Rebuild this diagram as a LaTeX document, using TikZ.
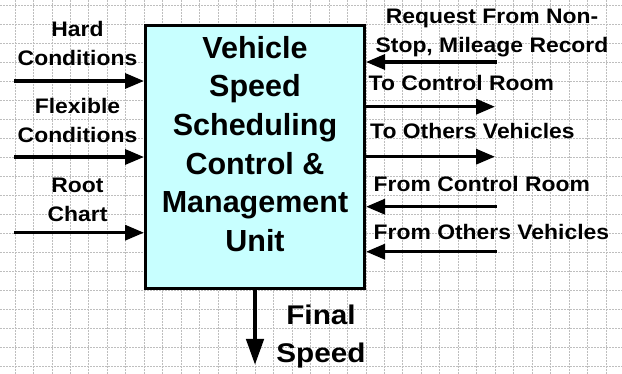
\documentclass[tikz,border=0pt]{standalone}
\usepackage{fontspec}
\setmainfont{Liberation Sans}
\usetikzlibrary{arrows.meta}
\definecolor{boxfill}{RGB}{200,255,255}
\definecolor{gridc}{RGB}{190,190,190}
\begin{document}
\begin{tikzpicture}[x=1pt,y=-1pt,
  lab/.style={font=\bfseries\fontsize{21}{28.7}\selectfont, xscale=1.09, inner sep=0pt, align=center},
  rlab/.style={font=\bfseries\fontsize{21}{28.7}\selectfont, xscale=1.09, inner sep=0pt, anchor=base west},
  titletext/.style={font=\bfseries\fontsize{30.5}{38.7}\selectfont, inner sep=0pt, align=center},
  finaltext/.style={font=\bfseries\fontsize{27}{38.4}\selectfont, xscale=1.1, inner sep=0pt, align=center},
  arr/.style={line width=3.3pt, -{Triangle[length=19pt,width=15pt]}},
  bigarr/.style={line width=4.5pt, -{Triangle[length=26pt,width=17pt]}},
  gridl/.style={gridc, line width=0.8pt, dash pattern=on 2pt off 1pt},
  mainbox/.style={draw=black, line width=3pt, fill=boxfill, minimum width=219pt, minimum height=263pt, inner sep=0pt}]
\useasboundingbox (0,0) rectangle (622,374);
\fill[white] (0,0) rectangle (622,374);
% grid
\foreach \i in {0,...,32} {\draw[gridl] ({15+18.47*\i},0) -- ({15+18.47*\i},374);}
\foreach \j in {0,...,19} {\draw[gridl] (0,{5+19*\j}) -- (622,{5+19*\j});}
% main box
\node[mainbox] (box) at (255,157) {};
\node[titletext, anchor=south] (title) at (255,252) {Vehicle\\Speed\\Scheduling\\Control \&\\Management\\Unit};
% left labels
\node[lab, anchor=south] (hard) at (77.5,66) {Hard\\Conditions};
\node[lab, anchor=south] (flex) at (77.5,142.5) {Flexible\\Conditions};
\node[lab, anchor=south] (root) at (77.5,221.7) {Root\\Chart};
\coordinate (hardS) at (14,81);
\coordinate (flexS) at (14,157);
\coordinate (rootS) at (14,232.7);
\draw[arr] (hardS) -- (hardS -| box.west);
\draw[arr] (flexS) -- (flexS -| box.west);
\draw[arr] (rootS) -- (rootS -| box.west);
% right labels
\node[lab, anchor=north] (req) at (492,9) {Request From Non-\\Stop, Mileage Record};
\node[rlab] (tcr) at (368.5,90.7) {To Control Room};
\node[rlab] (tov) at (370,138.7) {To Others Vehicles};
\node[rlab] (fcr) at (373.5,191.7) {From Control Room};
\node[rlab] (fov) at (373.5,239.3) {From Others Vehicles};
\coordinate (reqS) at (496.7,62);
\coordinate (tcrE) at (495,106.7);
\coordinate (tovE) at (495,156.7);
\coordinate (fcrS) at (496.7,206.7);
\coordinate (fovS) at (496.7,251.7);
\draw[arr] (reqS) -- (reqS -| box.east);
\draw[arr] (tcrE -| box.east) -- (tcrE);
\draw[arr] (tovE -| box.east) -- (tovE);
\draw[arr] (fcrS) -- (fcrS -| box.east);
\draw[arr] (fovS) -- (fovS -| box.east);
% bottom
\coordinate (finE) at (255,365);
\draw[bigarr] (finE |- box.south) -- (finE);
\node[finaltext, anchor=north] (fin) at (321,304.3) {Final\\Speed};
\end{tikzpicture}
\end{document}
